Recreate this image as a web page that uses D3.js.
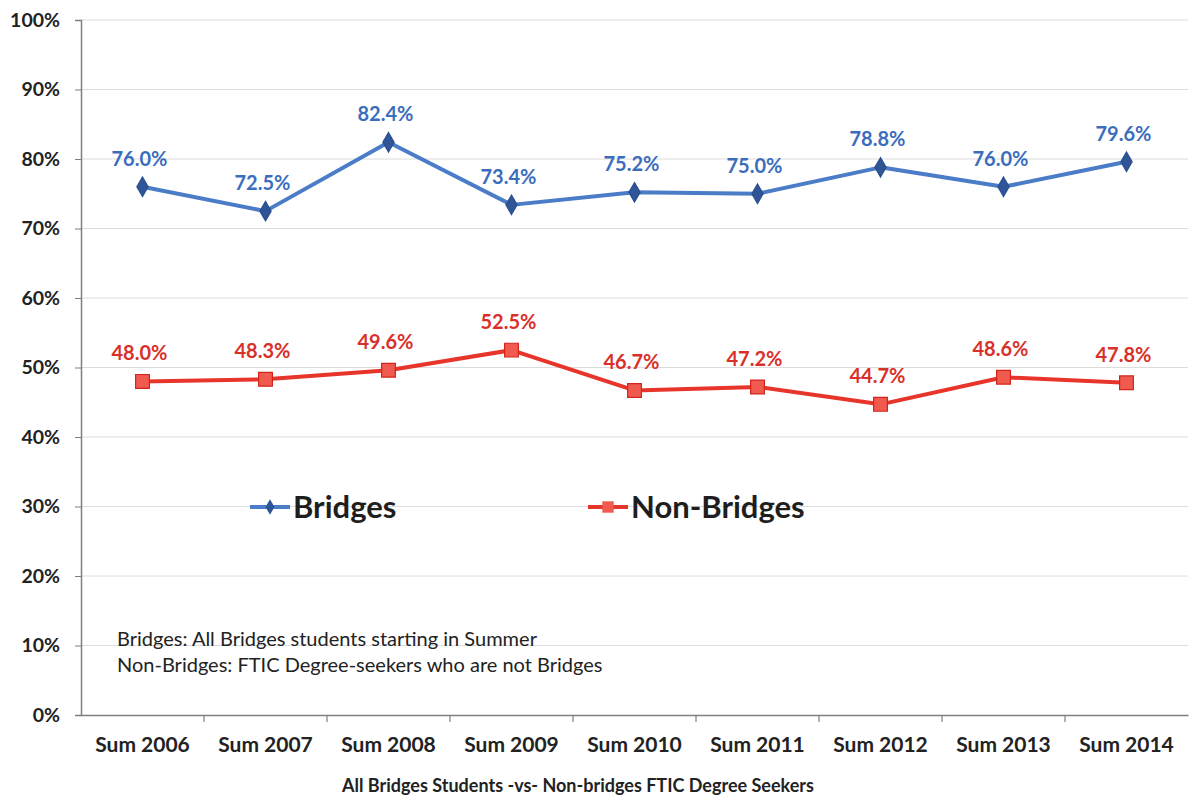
<!DOCTYPE html>
<html>
<head>
<meta charset="utf-8">
<script src="https://cdn.jsdelivr.net/npm/d3@7"></script>
<style>
  html, body { margin: 0; padding: 0; background: #fff; }
  svg { display: block; }
  text { font-family: Lato, "Open Sans", sans-serif; }
</style>
</head>
<body>
<svg id="chart" width="1190" height="802"></svg>
<script>
// Summer cohorts
const terms = ["Sum 2006", "Sum 2007", "Sum 2008", "Sum 2009", "Sum 2010",
               "Sum 2011", "Sum 2012", "Sum 2013", "Sum 2014"];
// Rates (%) for each group
const bridges    = [76.0, 72.5, 82.4, 73.4, 75.2, 75.0, 78.8, 76.0, 79.6];
const nonBridges = [48.0, 48.3, 49.6, 52.5, 46.7, 47.2, 44.7, 48.6, 47.8];
const yTicks = [0, 10, 20, 30, 40, 50, 60, 70, 80, 90, 100];
const noteLines = [
  "Bridges: All Bridges students starting in Summer",
  "Non-Bridges: FTIC Degree-seekers who are not Bridges"
];
const caption = "All Bridges Students -vs- Non-bridges FTIC Degree Seekers";

const svg = d3.select("#chart");
const plotLeft = 81, plotRight = 1188, plotTop = 20, plotBottom = 715;

const x = d3.scaleBand().domain(terms).range([plotLeft, plotRight]);
const y = d3.scaleLinear().domain([0, 100]).range([plotBottom, plotTop]);

// Horizontal gridlines
svg.append("g").selectAll("line").data(yTicks.filter(d => d > 0)).join("line")
  .attr("x1", plotLeft).attr("x2", plotRight)
  .attr("y1", d => y(d)).attr("y2", d => y(d))
  .attr("stroke", "#dcdcdc").attr("stroke-width", 1);

// Y axis
const yAxis = svg.append("g").attr("transform", `translate(${plotLeft},0)`)
  .call(d3.axisLeft(y).tickValues(yTicks).tickFormat(d => d + "%").tickSize(6).tickPadding(15));
yAxis.select(".domain").attr("stroke", "#7f7f7f").attr("stroke-width", 1.5);
yAxis.selectAll(".tick line").attr("stroke", "#7f7f7f");
yAxis.selectAll("text").attr("font-size", 19.5).attr("font-weight", "bold").attr("fill", "#222")
  .attr("font-family", "Lato, sans-serif");

// X axis
const xAxis = svg.append("g").attr("transform", `translate(0,${plotBottom})`)
  .call(d3.axisBottom(x).tickSize(0).tickPadding(22));
xAxis.select(".domain").attr("stroke", "#7f7f7f").attr("stroke-width", 1.5);
xAxis.selectAll("text").attr("font-size", 21).attr("font-weight", "bold").attr("fill", "#222")
  .attr("font-family", "Lato, sans-serif");
// Category boundary ticks
svg.append("g").selectAll("line").data(terms.slice(1)).join("line")
  .attr("x1", d => x(d)).attr("x2", d => x(d))
  .attr("y1", plotBottom).attr("y2", plotBottom + 7)
  .attr("stroke", "#7f7f7f").attr("stroke-width", 1.2);

const cx = d => x(d) + x.bandwidth() / 2;
const line = d3.line().x((d, i) => cx(terms[i])).y(d => y(d));

const series = [
  { name: "Bridges", values: bridges, line: "#4a7cc7", mark: "#2f5597", edge: "#2a4f8f", label: "#3b6dbd", shape: d3.symbolDiamond, size: 110, legendSize: 70 },
  { name: "Non-Bridges", values: nonBridges, line: "#e8352b", mark: "#f05a4f", edge: "#d2261c", label: "#d9302a", shape: d3.symbolSquare, size: 190, legendSize: 130 }
];

series.forEach(s => {
  svg.append("path").datum(s.values)
    .attr("d", line).attr("fill", "none")
    .attr("stroke", s.line).attr("stroke-width", 4).attr("stroke-linejoin", "round");
  svg.append("g").selectAll("path").data(s.values).join("path")
    .attr("transform", (d, i) => `translate(${cx(terms[i])},${y(d)})`)
    .attr("d", d3.symbol().type(s.shape).size(s.size))
    .attr("fill", s.mark)
    .attr("stroke", s.edge).attr("stroke-width", 1.2);
  svg.append("g").selectAll("text").data(s.values).join("text")
    .attr("x", (d, i) => cx(terms[i]) - 3)
    .attr("y", d => y(d) - 21)
    .attr("text-anchor", "middle")
    .attr("font-size", 20).attr("font-weight", "bold")
    .attr("fill", s.label)
    .text(d => d.toFixed(1) + "%");
});

// Legend
const legendX = [250, 588];
series.forEach((s, i) => {
  const lx = legendX[i], ly = 507;
  svg.append("line").attr("x1", lx).attr("x2", lx + 40).attr("y1", ly).attr("y2", ly)
    .attr("stroke", s.line).attr("stroke-width", 4);
  svg.append("path").attr("transform", `translate(${lx + 20},${ly})`)
    .attr("d", d3.symbol().type(s.shape).size(s.legendSize))
    .attr("fill", s.mark);
  svg.append("text").attr("x", lx + 43).attr("y", ly + 11)
    .attr("font-size", 31).attr("font-weight", "bold").attr("fill", "#1e1e1e")
    .attr("font-family", "Lato, sans-serif")
    .text(s.name);
});

// Definitions note
svg.append("g").selectAll("text").data(noteLines).join("text")
  .attr("x", 117).attr("y", (d, i) => 646 + i * 25.5)
  .attr("font-size", 20).attr("fill", "#222")
  .text(d => d);

// Caption
svg.append("text").attr("x", 578).attr("y", 792).attr("text-anchor", "middle")
  .attr("font-size", 18).attr("font-weight", "bold").attr("fill", "#222")
  .text(caption);
</script>
</body>
</html>
